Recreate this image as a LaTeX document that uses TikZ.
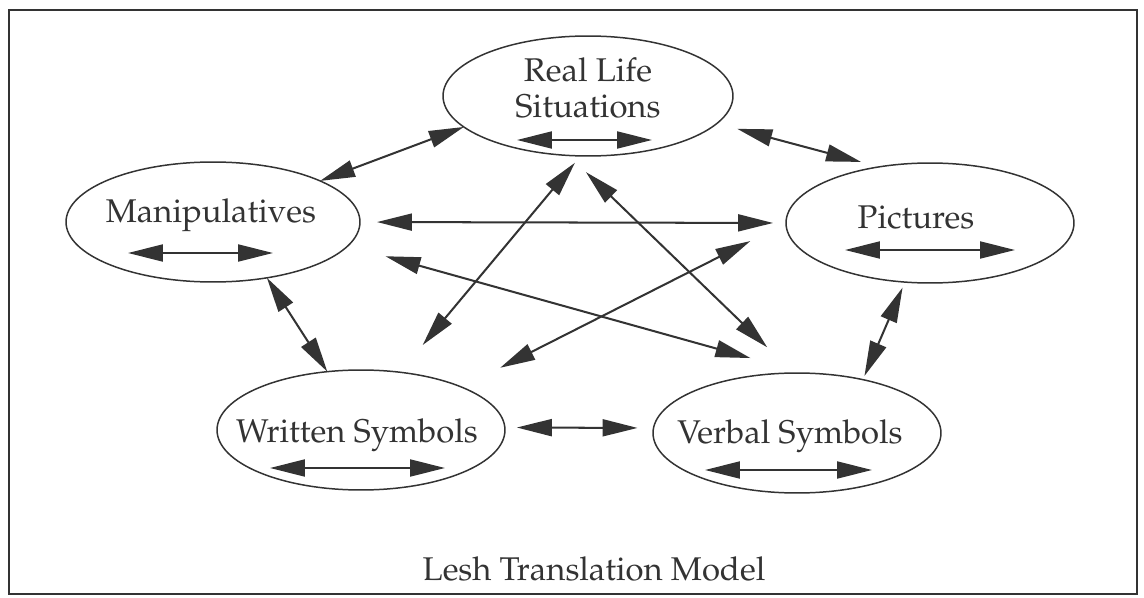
\documentclass[tikz,border=0pt]{standalone}
\usepackage[T1]{fontenc}
\usepackage{mathpazo}
\usetikzlibrary{arrows.meta,shapes.geometric,positioning}
\definecolor{ink}{HTML}{333333}

\begin{document}
\begin{tikzpicture}[x=0.02cm, y=-0.02cm,
		rep/.style={draw=ink, line width=0.85pt, ellipse, minimum height=2.4cm, inner sep=0pt, outer sep=0pt},
		lbl/.style={text=ink, font=\fontsize{18.7}{21}\selectfont, align=center},
		link/.style={color=ink, line width=1.15pt, {Triangle[length=0.7cm,width=0.34cm]}-{Triangle[length=0.7cm,width=0.34cm]}}]
					\useasboundingbox (0,0) rectangle (1144,598);
					\draw[ink, line width=0.9pt] (9,10) rectangle (1137,594);

					\node[rep, minimum width=5.8cm] (rls) at (588,96) {};
					\node[rep, minimum width=5.88cm] (man) at (213,222) {};
					\node[rep, minimum width=5.76cm] (pic) at (930,223) {};
					\node[rep, minimum width=5.76cm] (ws) at (361,430) {};
					\node[rep, minimum width=5.76cm] (vs) at (797,433) {};

					\node[lbl] (rls-txt) at (588,88) {Real Life\\Situations};
					\node[lbl, anchor=base] (man-txt) at (211,223) {Manipulatives};
					\node[lbl, anchor=base] (pic-txt) at (916,229) {Pictures};
					\node[lbl, anchor=base] (ws-txt) at (357,442) {Written Symbols};
					\node[lbl, anchor=base] (vs-txt) at (790,443) {Verbal Symbols};
					\node[lbl, anchor=base] (title) at (594,580) {Lesh Translation Model};

					\coordinate (rls-a) at (517,140);
					\coordinate (rls-b) at (652,140);
					\coordinate (man-a) at (128,253);
					\coordinate (man-b) at (273,253);
					\coordinate (pic-a) at (845,250);
					\coordinate (pic-b) at (1015,250);
					\coordinate (ws-a) at (270,468);
					\coordinate (ws-b) at (445,468);
					\coordinate (vs-a) at (705,470);
					\coordinate (vs-b) at (872,470);

					\path [link]
						(rls-a) edge (rls-b)
						(man-a) edge (man-b)
						(pic-a) edge (pic-b)
						(ws-a) edge (ws-b)
						(vs-a) edge (vs-b)
						(man.21) edge (rls.194)
						(rls.348) edge[shorten <=0.42cm, shorten >=0.38cm] (pic.132)
						(man.0) edge[shorten <=0.34cm, shorten >=0.26cm] (pic.180)
						(man.314) edge (ws.120)
						(pic.247) edge[shorten <=0.12cm, shorten >=0.08cm] (vs.39)
						(ws.1) edge[shorten <=0.24cm, shorten >=0.32cm] (vs.178)
						(rls.263) edge[shorten <=0.18cm, shorten >=0.71cm] (ws.56)
						(rls.252) edge[shorten <=0.48cm, shorten >=0.74cm] (vs.93)
						(man.350) edge[shorten <=0.78cm, shorten >=1.12cm] (vs.83)
						(pic.180) edge[shorten <=0.8cm, shorten >=0.86cm] (ws.23)
					;
\end{tikzpicture}
\end{document}
